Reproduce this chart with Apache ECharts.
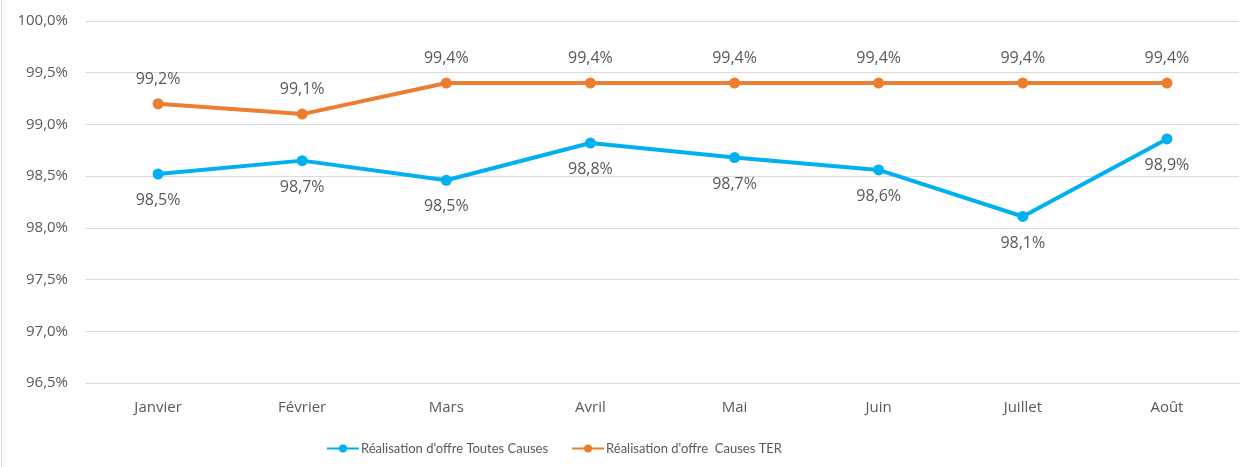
<!DOCTYPE html>
<html>
<head>
<meta charset="utf-8">
<script src="https://cdn.jsdelivr.net/npm/echarts@6/dist/echarts.min.js"></script>
<style>html,body{margin:0;padding:0;background:#fff;}#c{width:1243px;height:467px;}</style>
</head>
<body>
<div id="c"></div>
<script>
const categories = ['Janvier', 'Février', 'Mars', 'Avril', 'Mai', 'Juin', 'Juillet', 'Août'];
const toutesCauses = [98.52, 98.65, 98.46, 98.82, 98.68, 98.56, 98.11, 98.86];
const causesTER = [99.2, 99.1, 99.4, 99.4, 99.4, 99.4, 99.4, 99.4];
const seriesNames = ["Réalisation d'offre Toutes Causes", "Réalisation d'offre  Causes TER"];
const yMin = 96.5, yMax = 100.0, yStep = 0.5;

const fmt = v => v.toFixed(1).replace('.', ',') + '%';
const font = 'Open Sans';
const chart = echarts.init(document.getElementById('c'), null, {renderer: 'canvas'});
chart.setOption({
  animation: false,
  textStyle: {fontFamily: font},
  graphic: [{type: 'line', shape: {x1: 1.5, y1: 0, x2: 1.5, y2: 467}, style: {stroke: '#d9d9d9', lineWidth: 1}}],
  grid: {left: 86, right: 4, top: 21, bottom: 84, containLabel: false},
  legend: {
    left: 321, top: 437,
    itemWidth: 32, itemHeight: 10, itemGap: 23,
    textStyle: {color: '#595959', fontSize: 13, fontFamily: 'Lato', padding: [0, 0, 0, -3]},
    data: seriesNames
  },
  xAxis: {
    type: 'category', data: categories, boundaryGap: true,
    axisLine: {lineStyle: {color: '#d9d9d9', width: 1}},
    axisTick: {show: false},
    axisLabel: {color: '#595959', fontSize: 15, margin: 17}
  },
  yAxis: {
    type: 'value', min: yMin, max: yMax, interval: yStep,
    axisLine: {show: false}, axisTick: {show: false},
    splitLine: {lineStyle: {color: '#d9d9d9', width: 1}},
    axisLabel: {color: '#595959', fontSize: 15, margin: 18, formatter: v => fmt(v)}
  },
  series: [
    {
      name: seriesNames[0], type: 'line', data: toutesCauses,
      symbol: 'circle', symbolSize: 11,
      itemStyle: {color: '#00B0F0'}, lineStyle: {color: '#00B0F0', width: 4},
      label: {show: true, position: 'bottom', distance: 13, color: '#595959', fontSize: 16, formatter: p => fmt(p.value)}
    },
    {
      name: seriesNames[1], type: 'line', data: causesTER,
      symbol: 'circle', symbolSize: 11,
      itemStyle: {color: '#ED7D31'}, lineStyle: {color: '#ED7D31', width: 4},
      label: {show: true, position: 'top', distance: 11, color: '#595959', fontSize: 16, formatter: p => fmt(p.value)}
    }
  ]
});
</script>
</body>
</html>
